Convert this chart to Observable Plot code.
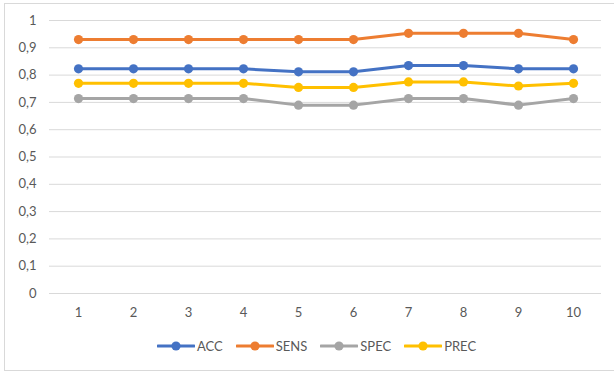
<!DOCTYPE html>
<html>
<head>
<meta charset="utf-8">
<script src="https://cdn.jsdelivr.net/npm/d3@7"></script>
<script src="https://cdn.jsdelivr.net/npm/@observablehq/plot@0.6"></script>
<style>
  html, body { margin: 0; padding: 0; background: #fff; }
  body { width: 614px; height: 371px; position: relative; overflow: hidden; font-family: Lato, "Open Sans", sans-serif; }
  #frame { position: absolute; left: 4px; top: 3px; width: 640px; height: 366px; border: 1px solid #d9d9d9; }
  #chart { position: absolute; left: 0; top: 0; }
  #legend { position: absolute; left: 157px; top: 338px; display: flex; align-items: center; font-size: 13px; color: #595959; }
  #legend .item { display: flex; align-items: center; margin-right: 13px; }
  #legend svg { display: block; margin-right: 2px; }
</style>
</head>
<body>
<div id="frame"></div>
<div id="chart"></div>
<div id="legend"></div>
<script>
const xs = [1, 2, 3, 4, 5, 6, 7, 8, 9, 10];
const seriesNames = ["ACC", "SENS", "SPEC", "PREC"];
const seriesColors = ["#4472C4", "#ED7D31", "#A5A5A5", "#FFC000"];
const ACC  = [0.823, 0.823, 0.823, 0.823, 0.812, 0.812, 0.835, 0.835, 0.823, 0.823];
const SENS = [0.930, 0.930, 0.930, 0.930, 0.930, 0.930, 0.953, 0.953, 0.953, 0.930];
const SPEC = [0.714, 0.714, 0.714, 0.714, 0.690, 0.690, 0.714, 0.714, 0.690, 0.714];
const PREC = [0.770, 0.770, 0.770, 0.770, 0.755, 0.755, 0.775, 0.775, 0.760, 0.770];
const yTicks = [0, 0.1, 0.2, 0.3, 0.4, 0.5, 0.6, 0.7, 0.8, 0.9, 1];

const seriesValues = [ACC, SENS, SPEC, PREC];
const data = [];
seriesNames.forEach((name, i) => {
  xs.forEach((x, j) => data.push({ series: name, x: x, y: seriesValues[i][j] }));
});

const fmt = d => d3.format(".1~f")(d).replace(".", ",");

const chart = Plot.plot({
  width: 614,
  height: 330,
  marginLeft: 49,
  marginRight: 13,
  marginTop: 20,
  marginBottom: 37,
  style: { fontFamily: "Lato, 'Open Sans', sans-serif", fontSize: "13px", color: "#595959", background: "transparent" },
  x: { type: "point", domain: xs, padding: 0.5, label: null },
  y: { domain: [0, 1], label: null },
  color: { domain: seriesNames, range: seriesColors },
  marks: [
    Plot.ruleY(yTicks, { stroke: "#d9d9d9", strokeWidth: 1 }),
    Plot.axisY(yTicks, { tickSize: 0, tickPadding: 13, tickFormat: fmt, label: null, fill: "#595959" }),
    Plot.axisX(xs, { tickSize: 0, tickPadding: 14, label: null, fill: "#595959" }),
    Plot.line(data, { x: "x", y: "y", z: "series", stroke: "series", strokeWidth: 3, strokeLinejoin: "round", strokeLinecap: "round" }),
    Plot.dot(data, { x: "x", y: "y", fill: "series", r: 4.6, stroke: null })
  ]
});
document.getElementById("chart").appendChild(chart);

const legend = document.getElementById("legend");
seriesNames.forEach((name, i) => {
  const item = document.createElement("div");
  item.className = "item";
  item.innerHTML = `<svg width="38" height="12"><line x1="1" y1="6" x2="37" y2="6" stroke="${seriesColors[i]}" stroke-width="3" stroke-linecap="round"/><circle cx="19" cy="6" r="4.6" fill="${seriesColors[i]}"/></svg><span>${name}</span>`;
  legend.appendChild(item);
});
</script>
</body>
</html>
